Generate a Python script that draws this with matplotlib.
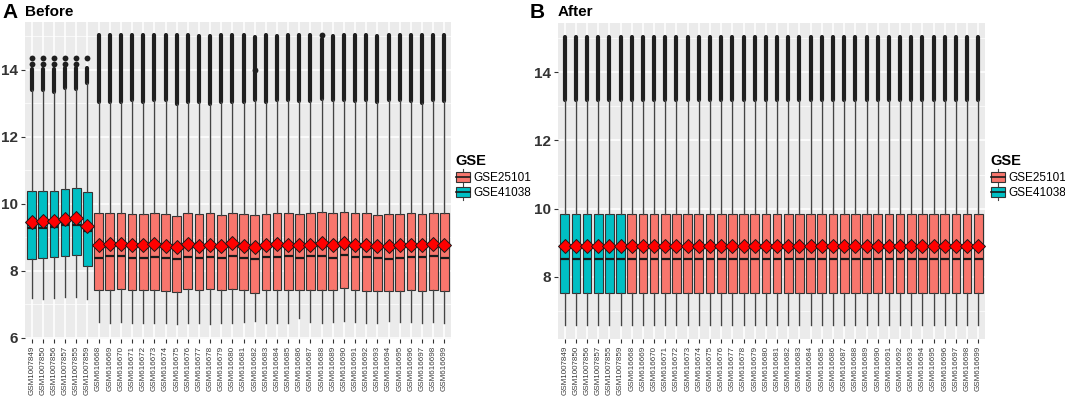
import matplotlib.pyplot as plt
from matplotlib.patches import Patch, Rectangle
from matplotlib.lines import Line2D
from matplotlib.legend_handler import HandlerBase
from matplotlib.ticker import MultipleLocator

plt.rcParams['font.family'] = ['Liberation Sans', 'DejaVu Sans']

# samples and batch
samples = ['GSM1007849', 'GSM1007850', 'GSM1007856', 'GSM1007857', 'GSM1007855', 'GSM1007859'] + \
          ['GSM6166%02d' % i for i in range(68, 100)]
batch = ['GSE41038'] * 6 + ['GSE25101'] * 32
colors = {'GSE25101': '#F8766D', 'GSE41038': '#00BFC4'}

# before correction
before_q1 = [8.36, 8.39, 8.40, 8.44, 8.46, 8.16,
             7.43, 7.43, 7.45, 7.42, 7.42, 7.43, 7.40, 7.37, 7.45, 7.42, 7.45, 7.42, 7.46, 7.42, 7.35, 7.43,
             7.43, 7.43, 7.42, 7.43, 7.43, 7.42, 7.48, 7.42, 7.40, 7.40, 7.40, 7.40, 7.42, 7.40, 7.43, 7.40]
before_med = [9.28, 9.28, 9.30, 9.37, 9.38, 9.20,
              8.39, 8.43, 8.43, 8.39, 8.39, 8.41, 8.39, 8.34, 8.41, 8.39, 8.41, 8.39, 8.44, 8.39, 8.36, 8.41,
              8.41, 8.43, 8.39, 8.43, 8.44, 8.39, 8.46, 8.41, 8.41, 8.39, 8.36, 8.39, 8.41, 8.41, 8.43, 8.39]
before_q3 = [10.37, 10.39, 10.39, 10.45, 10.47, 10.36,
             9.72, 9.72, 9.72, 9.70, 9.70, 9.72, 9.70, 9.65, 9.72, 9.70, 9.72, 9.68, 9.72, 9.70, 9.68, 9.70,
             9.72, 9.73, 9.70, 9.72, 9.75, 9.72, 9.75, 9.72, 9.72, 9.68, 9.70, 9.70, 9.72, 9.70, 9.72, 9.72]
before_mean = [9.47, 9.50, 9.50, 9.55, 9.57, 9.33,
               8.77, 8.80, 8.80, 8.77, 8.77, 8.80, 8.75, 8.72, 8.80, 8.75, 8.78, 8.75, 8.82, 8.75, 8.72, 8.78,
               8.80, 8.78, 8.78, 8.78, 8.82, 8.78, 8.82, 8.78, 8.77, 8.75, 8.75, 8.77, 8.78, 8.78, 8.80, 8.77]
before_lo = [7.20, 7.17, 7.20, 7.22, 7.22, 7.17,
             6.49, 6.45, 6.47, 6.45, 6.45, 6.45, 6.45, 6.42, 6.45, 6.44, 6.42, 6.45, 6.45, 6.47, 6.52, 6.45,
             6.45, 6.46, 6.59, 6.47, 6.45, 6.47, 6.50, 6.47, 6.45, 6.45, 6.50, 6.49, 6.47, 6.45, 6.49, 6.45]
before_hi = [13.38, 13.38, 13.33, 13.46, 13.43, 13.60,
             13.04, 13.04, 13.04, 13.09, 13.04, 13.09, 13.09, 12.99, 13.04, 13.04, 12.97, 13.04, 13.04, 13.04,
             13.09, 13.04, 13.09, 13.09, 13.06, 13.06, 13.12, 13.09, 13.09, 13.06, 13.09, 13.04, 13.09, 13.09,
             13.06, 13.02, 13.09, 13.06]
# dense outlier band: top of band for each sample
before_out_top = [14.03, 14.03, 14.03, 14.05, 14.05, 14.05,
                  15.04, 15.04, 15.04, 15.04, 15.04, 15.04, 15.04, 15.04, 15.04, 15.00, 15.00, 15.04, 15.04,
                  15.04, 14.98, 15.04, 14.99, 15.04, 15.04, 15.04, 14.92, 14.99, 15.04, 15.04, 15.04, 14.99,
                  15.04, 15.04, 15.04, 15.04, 15.04, 15.04]
# separate outlier points
before_fliers = [[14.18, 14.36], [14.18, 14.36], [14.18, 14.36], [14.18, 14.36], [14.18, 14.36], [14.36]] + \
                [[] for _ in range(14)] + [[14.0]] + [[] for _ in range(5)] + [[15.02]] + [[] for _ in range(11)]

# after correction: every sample has the same distribution
after_q1 = [7.52] * 38
after_med = [8.53] * 38
after_q3 = [9.84] * 38
after_mean = [8.89] * 38
after_lo = [6.57] * 38
after_hi = [13.19] * 38
after_out_top = [15.04] * 38
after_fliers = [[] for _ in range(38)]


class BoxHandler(HandlerBase):
    def create_artists(self, legend, orig_handle, xdescent, ydescent, width, height, fontsize, trans):
        x0, y0 = -xdescent, -ydescent
        cx = x0 + width / 2
        art = [
            Line2D([cx, cx], [y0 - 0.1 * height, y0 + 1.1 * height], color='#444444', lw=0.8),
            Rectangle((x0 + 0.05 * width, y0 + 0.1 * height), 0.9 * width, 0.8 * height,
                      facecolor=orig_handle.get_facecolor(), edgecolor='#333333', lw=0.8),
            Line2D([x0 + 0.05 * width, x0 + 0.95 * width], [y0 + height / 2] * 2, color='#1a1a1a', lw=1.2),
        ]
        for a in art:
            a.set_transform(trans)
        return art


def draw_panel(ax, q1, med, q3, mean, lo, hi, out_top, fliers, ylim):
    pos = list(range(1, len(samples) + 1))
    stats = []
    for i in range(len(samples)):
        stats.append(dict(q1=q1[i], med=med[i], q3=q3[i], mean=mean[i],
                          whislo=lo[i], whishi=hi[i], fliers=fliers[i]))
    ax.set_facecolor('#EBEBEB')
    ax.vlines(pos, hi, out_top, colors='#1f1f1f', lw=3.0, capstyle='round', zorder=2)
    bp = ax.bxp(stats, positions=pos, widths=0.78, patch_artist=True, showmeans=True, showcaps=False,
                boxprops=dict(edgecolor='#333333', lw=0.8),
                whiskerprops=dict(color='#444444', lw=1.0),
                medianprops=dict(color='#1a1a1a', lw=1.6),
                meanprops=dict(marker='D', markerfacecolor='red', markeredgecolor='#1a1a1a',
                               markeredgewidth=0.7, markersize=6.8),
                flierprops=dict(marker='o', markerfacecolor='#1f1f1f', markeredgecolor='none', markersize=4.2))
    for patch, b in zip(bp['boxes'], batch):
        patch.set_facecolor(colors[b])
    ax.set_xticks(pos)
    ax.set_xticklabels(samples, rotation=90, fontsize=5.8, color='#3a3a3a')
    ax.set_yticks([6, 8, 10, 12, 14])
    ax.yaxis.set_minor_locator(MultipleLocator(1))
    ax.set_xlim(0.4, len(samples) + 0.6)
    ax.set_ylim(*ylim)
    ax.tick_params(axis='y', which='major', labelsize=11, labelcolor='#333333', length=3,
                   color='#333333', width=0.8, pad=2)
    ax.tick_params(axis='y', which='minor', length=0)
    ax.tick_params(axis='x', length=3, color='#333333', width=0.8, pad=2)
    for lab in ax.get_yticklabels():
        lab.set_fontweight('bold')
    ax.grid(which='major', color='white', lw=1.1)
    ax.grid(which='minor', axis='y', color='white', lw=0.5)
    ax.set_axisbelow(True)
    for s in ax.spines.values():
        s.set_visible(False)


fig = plt.figure(figsize=(10.65, 3.98), dpi=100)
ax1 = fig.add_axes([25 / 1065, 59 / 398, 426 / 1065, 317 / 398])
ax2 = fig.add_axes([558 / 1065, 59 / 398, 427 / 1065, 316 / 398])

draw_panel(ax1, before_q1, before_med, before_q3, before_mean, before_lo, before_hi,
           before_out_top, before_fliers, (5.97, 15.42))
draw_panel(ax2, after_q1, after_med, after_q3, after_mean, after_lo, after_hi,
           after_out_top, after_fliers, (6.17, 15.45))

fig.text(2 / 1065, 1 - 12 / 398, 'A', fontsize=15, fontweight='bold', va='center')
fig.text(25 / 1065, 1 - 12 / 398, 'Before', fontsize=11, fontweight='bold', va='center')
fig.text(530 / 1065, 1 - 12 / 398, 'B', fontsize=15, fontweight='bold', va='center')
fig.text(558 / 1065, 1 - 12 / 398, 'After', fontsize=11, fontweight='bold', va='center')

handles = [Patch(facecolor=colors['GSE25101']), Patch(facecolor=colors['GSE41038'])]
labels = ['GSE25101', 'GSE41038']
for x in (454, 989):
    fig.legend(handles, labels, title='GSE', loc='upper left',
               bbox_to_anchor=(x / 1065, 1 - 153 / 398), frameon=False,
               handler_map={Patch: BoxHandler()}, fontsize=8.5,
               title_fontproperties={'weight': 'bold', 'size': 10.5},
               handlelength=1.3, handleheight=1.25, handletextpad=0.25, labelspacing=0.2,
               borderaxespad=0, borderpad=0.1, alignment='left')

fig.savefig('out.png', dpi=100)
